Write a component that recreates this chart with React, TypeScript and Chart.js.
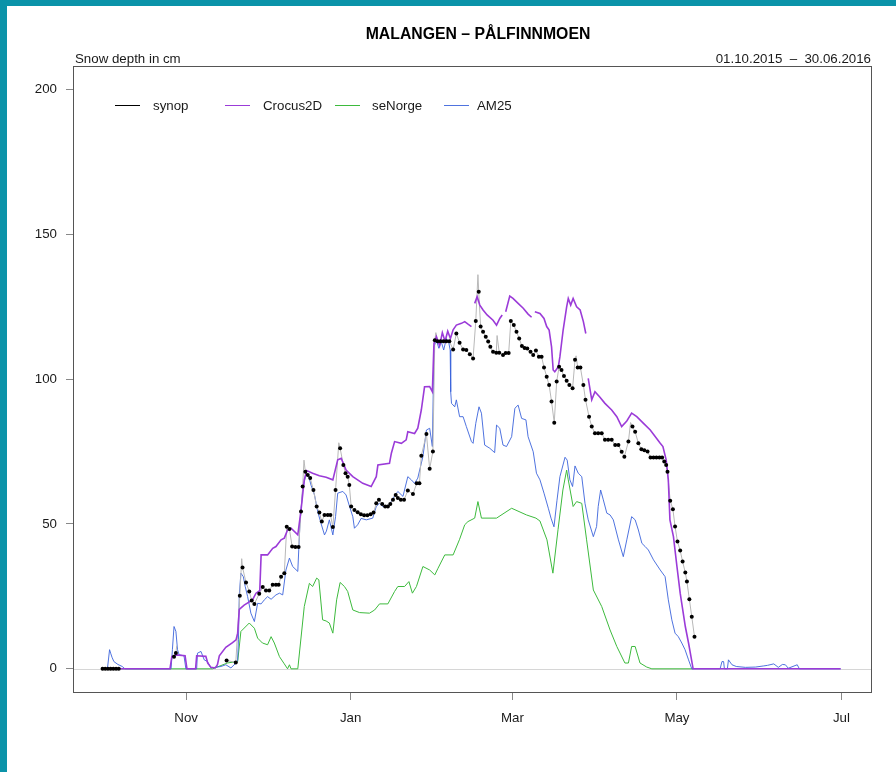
import React, { useEffect, useRef } from 'react';
import { Chart, registerables } from 'chart.js';

Chart.register(...registerables);

const FONT = "'Liberation Sans', Arial, Helvetica, sans-serif";
const TEAL = '#0b93a9';
const CROCUS = '#9b3bd8';
const BLUE = 'rgba(60,100,220,0.9)';
const GREEN = '#3dba3d';
const GRAYLINE = '#b8b8b8';

// Days counted from 01.10.2015 (day 0)
const tickDays = [31, 92, 152, 213, 274];
const tickMonths = ['Nov', 'Jan', 'Mar', 'May', 'Jul'];
const yTicks = [0, 50, 100, 150, 200];

const synopDay = [0,1,2,3,4,5,6,26.5,27.2,46,
  49.4,50.9,51.9,53.2,54.4,55.3,56.3,58.1,59.4,60.6,
  61.8,63.1,64.3,65.3,66.2,67.4,68.3,69.3,70.3,71.5,
  72.7,73.6,74.2,75.2,76.1,77,78.2,79.4,80.4,81.3,
  82.3,83.5,84.5,85.4,86.4,88.1,89.3,90.1,90.9,91.5,
  92.2,93.4,94.6,95.8,97,98.2,99.4,100.5,101.5,102.5,
  103.7,104.8,105.8,106.7,107.7,108.7,109.5,110.6,111.8,113.2,
  115.1,116.5,117.5,118.2,120.1,121.3,122.5,123.2,124.2,125.3,
  126.4,127.5,128.6,130,131.2,132.4,133.7,134.9,136.2,137.4,
  138.4,139.5,140.2,141.1,142.1,143,143.8,144.8,146,147.1,
  148.5,149.5,150.6,151.4,152.5,153.5,154.5,155.5,156.5,157.5,
  158.7,159.7,160.7,161.8,162.8,163.7,164.7,165.6,166.5,167.5,
  168.4,169.3,170.2,171.1,172.1,173.1,174.3,175.2,176.2,177.2,
  178.3,179.1,180.4,181.4,182.6,183.8,185.1,186.3,187.5,188.8,
  190.1,191.3,192.5,193.5,195,196.5,197.5,198.7,199.8,200.9,
  202.1,203.2,204.3,205.4,206.5,207.5,208.3,209,209.5,210.5,
  211.5,212.3,213.2,214.2,215.1,216.1,216.7,217.6,218.5,219.5];
const synopDepth = [0,0,0,0,0,0,0,4.2,5.5,2.9,
  2.2,25.2,35,29.8,26.7,23.6,22.4,25.9,28.2,27,
  27,29,29,29,31.8,33,49,48.2,42.2,42,
  42,54.3,62.9,68,66.9,65.8,61.7,56,53.9,50.8,
  53.1,53.1,53.1,48.9,61.7,76.1,70.3,67.5,66.3,63.4,
  56,54.8,54,53.3,53,53,53.3,53.9,57.1,58.3,
  56.9,56,56,56.9,58.3,60,58.9,58.3,58.3,61.5,
  60.3,64,64,73.5,81,69,75,113.4,113,113,
  113,113,113,110.2,115.7,112.5,110.2,110,108.5,107.1,
  120,130.1,118.1,116.3,114.6,112.9,111.1,109.4,109.1,109.1,
  108.3,109,109,120,118.6,116.3,114,111.4,110.7,110.5,
  109.4,108.3,109.8,107.7,107.7,104,100.8,97.9,92.2,84.9,
  99.1,104.2,103.1,101,99.4,97.9,96.8,106.6,104,104,
  97.9,92.8,87,83.6,81.3,81.3,81.3,79,79,79,
  77.2,77.2,74.9,73.2,78.4,83.6,81.8,77.8,75.8,75.4,
  75,72.9,72.9,72.9,72.9,72.9,71.5,70.3,68,58,
  55.1,49.1,43.9,40.8,37,33.2,30.1,24,18,11.1];

// extra hourly peaks of the synop trace; null entries are breaks in the record
const synopPeakDay = [16, 27.5, 37, 51.6, 74.7, 87.6, 123.6, 139.2, 146.3, 175.6, 195.8];
const synopPeakDepth = [null, 8, null, 38, 72, 78, 116, 136, 115, 108, 85];

const crocusDay = [0,25,25.7,27.2,30.6,31.3,34.5,34.9,38.3,39,
  40.2,41.8,42.6,43.3,45.7,48.2,49.5,50.1,50.7,52.5,
  55.6,56.9,58.3,58.8,61.2,63.1,64.3,66.2,67.4,68.6,
  69.9,72.4,73.6,74.8,75.7,77.9,80.4,82.9,85.4,87.2,
  88.5,90.3,92.8,96.5,99.6,101.5,102.1,106.4,107.1,108.3,
  110.8,112.6,113.2,115.7,116.9,118.2,119.4,121.3,122.3,122.9,
  123.8,125,126,127,128,129,130,131.2,133.1,134.3,
  135.4,136.8,137.4,138,138.9,139.9,141.1,142.6,144.8,146.1,
  147.3,148.2,148.9,149.5,151,152.2,154.1,156,157.8,159.1,
  159.7,160.3,162.2,163.7,164.7,165.6,166.5,167.1,167.7,169,
  169.6,170.8,172.1,172.7,173.6,174.5,175.8,177.1,178.3,179.2,
  179.7,180.1,181.4,182.6,184.3,186.3,188.8,190.7,192.5,194.4,
  196.2,198.1,200.6,203.1,206.8,207.8,209,209.8,210.4,211.7,
  213,214.2,216.1,217.3,219,273.7];
const crocusDepth = [0,0,4.2,4.8,4.5,0,0,4.5,4.3,2,
  0.5,0.3,1.4,4.5,7.4,9,10,12.3,20.5,22,
  23.8,26.1,27,39.3,39.3,41.6,42.2,44.5,45.1,47.9,
  48.5,46.2,54.8,65.2,68.4,67.5,66.6,66.1,65.2,72.1,
  72.6,68.6,66.3,64,62.9,66.3,70.3,70.9,74.4,78.4,
  77.8,79,81.8,81.2,83,89.3,97.3,97.4,95.6,112.3,
  114.6,111.5,116,113,116.5,114,117,118.6,119.2,119.8,
  119,118.1,null,126.1,128.4,125.5,123.8,122.1,120.3,118.6,
  120.9,122.1,null,123.2,128.6,127.8,126.1,124.4,122.4,121.3,
  null,123.2,122.6,120.9,118.1,116.9,111.1,103.1,102.5,104.2,
  107.7,116.9,124.9,127.8,125.5,127.8,124.9,123.8,119.8,115.7,
  null,100.2,92.8,95.6,93.9,91.6,89.3,87,83.6,85.5,
  88.2,87,84.7,82.4,77.8,76.7,72.1,65.2,51.4,45.6,
  35.3,26.1,14.6,8.9,0,0];

const am25Day = [0,1.8,2.6,3,3.5,4.2,5.7,7.3,8.3,25.4,
  25.9,26.5,27.2,27.8,28.4,30.2,30.9,34.9,35.2,36.5,
  37.7,38.9,40.2,43.9,45.7,47.6,49.5,50.1,50.4,50.7,
  51.3,52.2,52.9,53.8,55,56.3,57.5,58.8,60,61.2,
  62.5,64.3,65.6,66.8,68,69.3,70.5,72.4,73.2,74.2,
  75.5,76.3,77.3,78.6,79.8,81,82.3,83,84.1,85.4,
  86.4,87.2,89.1,90.3,91.6,92.8,93.4,94.6,95.9,97.8,
  100.2,101.5,102.7,103.9,106.4,107.7,109.5,111.4,113.2,114.5,
  115.7,116.9,117.6,118.8,120.1,121.3,122.3,122.9,123.8,124.7,
  125.6,126.5,127.5,128.4,128.9,129.1,129.4,130.6,131.2,132.4,
  133.7,134.9,136.8,137.4,138.4,139.6,140.5,141.7,143.6,145.4,
  146.1,147.3,148.5,149.8,151.7,152.9,154.1,155.4,157,157.8,
  159.7,160.9,162.2,163.7,165.3,166.3,167.4,168.5,169.6,171.5,
  172.3,173.3,174.3,175.2,176.4,177.7,178.9,180.1,182,183.2,
  183.8,184.7,185.7,187,188.2,189.4,191.3,193.1,194.4,196.2,
  197.5,198.7,200,201.2,202.4,204.3,206.8,208.6,209.8,211.1,
  212.3,213.5,214.8,216,217.3,218.5,229,229.7,230.3,230.6,
  231.7,232.1,233.4,235,238.4,242.1,245.2,246.6,248.9,250.6,
  252.1,253.2,254.3,257.6,258.4,273.7];
const am25Depth = [0,0,6.6,5.4,4,2.5,1.5,0.8,0,0,
  6.6,14.6,12.9,6.6,4.8,4.5,0,0,5.4,6,
  3.1,2.5,0.3,0.8,1.4,0.3,2,3.1,10,25.5,
  33,31.8,28.4,24.9,19.2,16.3,22.6,22.4,23.8,24.9,
  24,25.5,26.1,25.5,34.1,38.2,35.3,33.6,50.2,61.7,
  67.5,67,63.4,60,54.2,50.2,46.2,47.5,51.4,46.2,
  52.5,60.6,61.2,60,56,52.5,48.5,49.7,51.9,51.4,
  52,56,57.1,56,56.5,58.9,61.2,59.5,66.3,65.2,
  64,65.8,68.6,73.2,82.4,83,76.7,111.1,113.4,110.6,
  112.9,110,114,112.5,110,95.6,91.6,90.4,92.8,87,
  87,83.6,78.4,77.8,84.7,90.4,88.2,77.2,76.1,74.6,
  84.1,83,77.2,76.7,80.1,89.9,91,86.4,85.9,80.1,
  74.9,67.5,65.2,60.6,55.4,52,49,58,66.3,73,
  72,65.2,62.9,70,67.5,66.3,57.1,51.4,45.6,49.1,
  56,61.7,58.3,53.7,53.1,51.4,44.5,38.7,44.5,52.5,
  51.4,47.9,43.3,42.2,41,37.6,34.1,31.8,23.8,16.9,
  12.3,11.1,8.9,6.6,3.1,0,0,2.5,2.5,0,
  0,3.1,1.4,0.8,0.5,0.6,1,1.2,1.7,0.5,
  1.5,1.4,0.2,1.4,0,0];

const seNorgeDay = [0,40.8,46.3,49.5,50.1,51.3,54.4,56.3,57.5,59.3,
  61.2,62.5,63.7,65.6,67.4,68.6,69.3,69.9,72.4,74.8,
  76.7,77.9,79.4,80.2,81.6,82.9,84.1,85.4,86.8,88.1,
  89.7,90.9,92.8,95.3,99,100.9,102.7,105.8,108.3,109.5,
  112,113.6,114.9,116.4,118.8,121.3,123.2,124.4,126.9,130,
  132.4,134.3,135.5,138,139.2,140.5,146.1,151.7,157.2,160.7,
  162.2,164.8,167,168.9,170.7,172.1,172.7,174.5,175.8,177.7,
  179.5,182,185.1,188.2,190.7,193.7,195,196.2,197.5,199.3,
  201.8,203.7,219];
const seNorgeDepth = [0,0,2,2.5,2.5,12.9,15.8,14,10.6,8.9,
  8.3,11.1,8.9,4.2,1.7,0,1.4,0,0,21.5,
  29.5,28.4,31.3,30.7,16.9,16.5,15.8,12.3,23.8,29.8,
  28.4,26.7,20.3,19.4,19.2,20.3,22.4,22.4,26.7,28.4,
  28.4,30.1,26.1,28.4,35.3,34.1,32.4,34.7,39.3,39.3,
  44.7,49.7,50.8,52,57.7,52,52,55.4,53.1,52,
  51,44.5,33,48,61.7,68.6,65.2,56,57.7,57.1,
  44.5,27.2,21.5,13.4,7.7,2,2,7.7,7.7,2,
  0.6,0,0];

const legendLabels = ['synop', 'Crocus2D', 'seNorge', 'AM25'];
const legendColors = ['#000000', CROCUS, GREEN, BLUE];

function pts(xs: number[], ys: (number | null)[]) {
  return xs.map((x, i) => ({ x, y: ys[i] }));
}

export default function App() {
  const ref = useRef<HTMLCanvasElement>(null);

  useEffect(() => {
    const canvas = ref.current;
    if (!canvas) return;

    const synopLine = pts(synopDay, synopDepth)
      .concat(pts(synopPeakDay, synopPeakDepth))
      .sort((a, b) => a.x - b.x);

    const decor = {
      id: 'decor',
      beforeDatasetsDraw(chart: any) {
        const { ctx, chartArea, scales } = chart;
        const y0 = Math.round(scales.y.getPixelForValue(0)) + 0.5;
        ctx.save();
        ctx.strokeStyle = '#d6d6d6';
        ctx.lineWidth = 1;
        ctx.beginPath();
        ctx.moveTo(chartArea.left, y0);
        ctx.lineTo(chartArea.right, y0);
        ctx.stroke();
        ctx.restore();
      },
      afterDraw(chart: any) {
        const { ctx, chartArea } = chart;
        ctx.save();
        ctx.strokeStyle = '#555555';
        ctx.lineWidth = 1;
        const l = Math.round(chartArea.left) + 0.5;
        const t = Math.round(chartArea.top) + 0.5;
        const r = Math.round(chartArea.right) + 0.5;
        const b = Math.round(chartArea.bottom) + 0.5;
        ctx.strokeRect(l, t, r - l, b - t);

        ctx.fillStyle = '#000';
        ctx.font = `bold 15.8px ${FONT}`;
        ctx.textAlign = 'center';
        ctx.textBaseline = 'alphabetic';
        ctx.fillText('MALANGEN \u2013 P\u00C5LFINNMOEN', 478, 38.5);

        ctx.font = `13.3px ${FONT}`;
        ctx.fillStyle = '#1a1a1a';
        ctx.textAlign = 'left';
        ctx.fillText('Snow depth in cm', 75, 62.5);
        ctx.textAlign = 'right';
        ctx.fillText('01.10.2015  \u2013  30.06.2016', 871, 62.5);

        const lineX = [115, 225, 335, 444];
        const textX = [153, 263, 372, 477];
        ctx.textAlign = 'left';
        ctx.textBaseline = 'middle';
        legendLabels.forEach((lab, i) => {
          ctx.strokeStyle = legendColors[i];
          ctx.lineWidth = 1;
          ctx.beginPath();
          ctx.moveTo(lineX[i], 105.5);
          ctx.lineTo(lineX[i] + 25, 105.5);
          ctx.stroke();
          ctx.fillStyle = '#1a1a1a';
          ctx.fillText(lab, textX[i], 106);
        });
        ctx.restore();
      },
    };

    const chart = new Chart(canvas, {
      type: 'line',
      data: {
        datasets: [
          {
            label: 'synop',
            data: pts(synopDay, synopDepth),
            showLine: false,
            pointRadius: 2,
            pointBackgroundColor: '#000',
            pointBorderWidth: 0,
            borderColor: '#000',
            order: 0,
          },
          {
            label: 'Crocus2D',
            data: pts(crocusDay, crocusDepth),
            borderColor: CROCUS,
            borderWidth: 1.6,
            pointRadius: 0,
            spanGaps: false,
            order: 1,
          },
          {
            label: 'synop trace',
            data: synopLine,
            borderColor: GRAYLINE,
            borderWidth: 1,
            pointRadius: 0,
            spanGaps: false,
            order: 2,
          },
          {
            label: 'AM25',
            data: pts(am25Day, am25Depth),
            borderColor: BLUE,
            borderWidth: 1,
            pointRadius: 0,
            order: 3,
          },
          {
            label: 'seNorge',
            data: pts(seNorgeDay, seNorgeDepth),
            borderColor: GREEN,
            borderWidth: 1,
            pointRadius: 0,
            order: 4,
          },
        ] as any,
      },
      options: {
        animation: false,
        responsive: false,
        devicePixelRatio: 1,
        layout: { padding: { left: 0, top: 66, right: 25, bottom: 0 } },
        elements: { line: { tension: 0 } },
        plugins: {
          legend: { display: false },
          tooltip: { enabled: false },
          title: { display: false },
        },
        scales: {
          x: {
            type: 'linear',
            min: -10.96,
            max: 284.96,
            afterBuildTicks: (scale: any) => {
              scale.ticks = tickDays.map((v) => ({ value: v }));
            },
            afterFit: (scale: any) => {
              scale.height = 80;
            },
            ticks: {
              autoSkip: false,
              maxRotation: 0,
              minRotation: 0,
              padding: 10,
              color: '#1a1a1a',
              font: { family: FONT, size: 13.3 },
              callback: (value: any) => {
                const i = tickDays.indexOf(Number(value));
                return i >= 0 ? tickMonths[i] : '';
              },
            },
            grid: {
              display: true,
              drawOnChartArea: false,
              drawTicks: true,
              tickLength: 8,
              color: '#888888',
            },
            border: { display: false },
          },
          y: {
            type: 'linear',
            min: -8,
            max: 208,
            afterBuildTicks: (scale: any) => {
              scale.ticks = yTicks.map((v) => ({ value: v }));
            },
            afterFit: (scale: any) => {
              scale.width = 73;
            },
            ticks: {
              padding: 9,
              color: '#1a1a1a',
              font: { family: FONT, size: 13.3 },
              callback: (value: any) => String(value),
            },
            grid: {
              display: true,
              drawOnChartArea: false,
              drawTicks: true,
              tickLength: 7,
              color: '#888888',
            },
            border: { display: false },
          },
        },
      } as any,
      plugins: [decor],
    });

    return () => chart.destroy();
  }, []);

  return (
    <div
      style={{
        position: 'fixed',
        left: 0,
        top: 0,
        width: 896,
        height: 772,
        background: '#ffffff',
        overflow: 'hidden',
      }}
    >
      <canvas
        ref={ref}
        width={896}
        height={772}
        style={{ position: 'absolute', left: 0, top: 0, width: 896, height: 772 }}
      />
      <div style={{ position: 'absolute', left: 0, top: 0, width: 896, height: 6, background: TEAL }} />
      <div style={{ position: 'absolute', left: 0, top: 0, width: 7, height: 772, background: TEAL }} />
    </div>
  );
}
